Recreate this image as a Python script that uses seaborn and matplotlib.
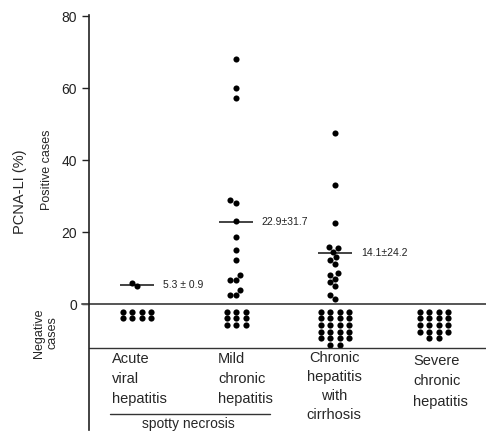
import numpy as np
import pandas as pd
import seaborn as sns
import matplotlib.pyplot as plt

sns.set_style('white')
plt.rcParams['font.family'] = ['Liberation Sans', 'DejaVu Sans']

# groups (x categories)
groups = ['Acute', 'Mild', 'Cirrhosis', 'Severe']
group_labels = ['Acute\nviral\nhepatitis', 'Mild\nchronic\nhepatitis',
                'Chronic\nhepatitis\nwith\ncirrhosis', 'Severe\nchronic\nhepatitis']

# PCNA-LI (%) of the positive cases
acute_pos = [5.8, 4.9]
mild_pos = [68, 60, 57.2, 29, 28.2, 23.1, 18.5, 15, 12.2, 8.1, 6.7, 6.7, 3.9, 2.5, 2.5]
cirr_pos = [47.5, 33, 22.6, 15.8, 15.5, 14.5, 13, 12.2, 11, 8.5, 8, 7, 6, 5, 2.5, 1.5]
severe_pos = []

# number of negative cases and how many columns they are stacked in
neg_counts = [8, 9, 22, 18]
neg_cols = [4, 3, 4, 4]

# mean +/- sd shown beside the groups
means = [5.3, 22.9, 14.1]
sds = [0.9, 31.7, 24.2]

pos = pd.DataFrame({
    'group': ['Acute'] * len(acute_pos) + ['Mild'] * len(mild_pos)
             + ['Cirrhosis'] * len(cirr_pos) + ['Severe'] * len(severe_pos),
    'value': acute_pos + mild_pos + cirr_pos + severe_pos,
})

# lay the negative cases out as little blocks under the zero line
rows = []
for i, (n, nc) in enumerate(zip(neg_counts, neg_cols)):
    k = 0
    r = 0
    while k < n:
        m = min(nc, n - k)
        for c in range(m):
            rows.append((i + (c - (m - 1) / 2) * 0.096, -2.1 - r * 1.85))
        k += m
        r += 1
neg = pd.DataFrame(rows, columns=['x', 'y'])

fig = plt.figure(figsize=(4.86, 4.34), dpi=100)
ax = fig.add_axes([89 / 486, 4 / 434, 1 - 89 / 486, 415 / 434])

sns.swarmplot(data=pos, x='group', y='value', order=groups, color='black',
              size=4.4, linewidth=0, ax=ax)
sns.scatterplot(data=neg, x='x', y='y', color='black', s=20, linewidth=0, ax=ax)

# mean lines and labels
for i, (m, s) in enumerate(zip(means, sds)):
    ax.hlines(m, i - 0.17, i + 0.17, color='#222222', lw=1.2)
    ax.text(i + 0.26, m, f'{m} ± {s}' if i == 0 else f'{m}±{s}',
            fontsize=7.5, va='center', ha='left', color='#222222')

ax.set_xlim(-0.485, 3.525)
ax.set_ylim(-35, 80.3)
ax.axhline(0, color='#555555', lw=1.4)
ax.plot([-0.56, -0.485], [0, 0], color='#555555', lw=1.4, clip_on=False)
ax.axhline(-12.2, color='#333333', lw=1.0)

# category labels below the plot area
ax.text(-0.253, -13.2, group_labels[0], fontsize=10.5, va='top', ha='left', linespacing=1.55)
ax.text(0.818, -13.2, group_labels[1], fontsize=10.5, va='top', ha='left', linespacing=1.55)
ax.text(1.99, -13.0, group_labels[2], fontsize=10.5, va='top', ha='center',
        multialignment='center', linespacing=1.45)
ax.text(2.788, -14.0, group_labels[3], fontsize=10.5, va='top', ha='left', linespacing=1.55)
ax.plot([-0.273, 1.343], [-30.6, -30.6], color='#333333', lw=1.0)
ax.text(0.515, -33.3, 'spotty necrosis', fontsize=10, va='center', ha='center')

sns.despine(ax=ax, top=True, right=True, bottom=True)
ax.spines['left'].set_color('#222222')
ax.spines['left'].set_linewidth(1.2)
ax.set_xticks([])
ax.set_xlabel('')
ax.set_ylabel('')
ax.set_yticks([0, 20, 40, 60, 80])
ax.tick_params(axis='y', direction='out', length=5, width=1, labelsize=10,
               left=True, colors='#222222')

fig.text(20 / 486, 1 - 192 / 434, 'PCNA-LI (%)', rotation=90, fontsize=10.5,
         ha='center', va='center')
fig.text(47 / 486, 1 - 170 / 434, 'Positive cases', rotation=90, fontsize=9,
         ha='center', va='center')
fig.text(46 / 486, 1 - 333 / 434, 'Negative\ncases', rotation=90, fontsize=9,
         ha='center', va='center')

fig.savefig('out.png', dpi=100)
